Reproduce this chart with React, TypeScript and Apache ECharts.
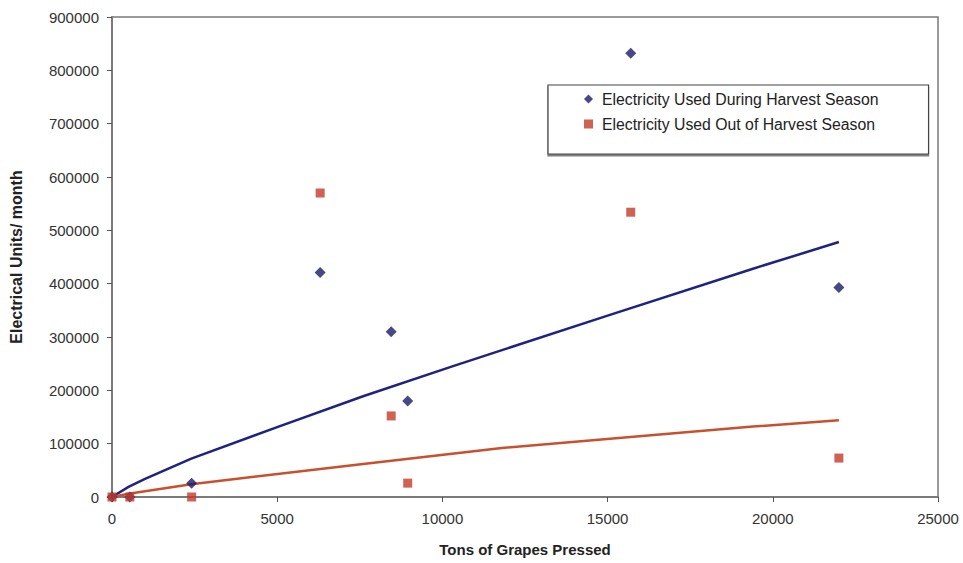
import React, { useEffect, useRef } from "react";
import * as echarts from "echarts";

const xTicks = [0, 5000, 10000, 15000, 20000, 25000];
const yTicks = [0, 100000, 200000, 300000, 400000, 500000, 600000, 700000, 800000, 900000];

const harvestTons = [0, 540, 2410, 6300, 8450, 8950, 15700, 22000];
const harvestUnits = [0, 0, 26000, 421000, 310000, 180000, 832000, 393000];

const offTons = [0, 540, 2410, 6300, 8450, 8950, 15700, 22000];
const offUnits = [0, 0, 0, 570000, 152000, 26000, 534000, 73000];

// trend lines
const harvestTrendX = [0, 500, 1000, 2400, 5000, 7600, 10300, 15000, 19400, 22000];
const harvestTrendY = [0, 19000, 34000, 72000, 131000, 189000, 245000, 340000, 428000, 478000];
const offTrendX = [0, 500, 2400, 7600, 11800, 19400, 22000];
const offTrendY = [0, 6000, 24000, 62000, 92000, 132000, 144000];

const seriesNames = [
  "Electricity Used During Harvest Season",
  "Electricity Used Out of Harvest Season",
];

const zip = (a: number[], b: number[]) => a.map((v, i) => [v, b[i]]);

export default function App() {
  const ref = useRef<HTMLDivElement>(null);
  useEffect(() => {
    if (!ref.current) return;
    const chart = echarts.init(ref.current, null, { renderer: "svg" });
    const font = "Liberation Sans, Arial, sans-serif";
    const blue = "#1a1a66";
    const red = "#c23b2b";
    chart.setOption({
      animation: false,
      backgroundColor: "#ffffff",
      textStyle: { fontFamily: font },
      grid: { left: 107, right: 25, top: 17, bottom: 66, show: true, borderColor: "#7a7a7a", borderWidth: 1.5 },
      legend: {
        data: [
          { name: seriesNames[0], icon: "diamond", itemStyle: { color: blue } },
          { name: seriesNames[1], icon: "rect", itemStyle: { color: red } },
        ],
        orient: "vertical",
        left: 548,
        top: 85,
        itemWidth: 9,
        itemHeight: 9,
        itemGap: 9,
        padding: [6, 50, 22, 36],
        borderColor: "#444",
        borderWidth: 1.2,
        backgroundColor: "#fff",
        shadowColor: "rgba(0,0,0,0.5)",
        shadowOffsetY: 2,
        shadowBlur: 0,
        textStyle: { fontSize: 15.8, color: "#222", fontFamily: font, padding: [0, 0, 0, 4] },
      },
      xAxis: {
        type: "value",
        min: 0,
        max: 25000,
        interval: 5000,
        name: "Tons of Grapes Pressed",
        nameLocation: "middle",
        nameGap: 45,
        nameTextStyle: { fontWeight: "bold", fontSize: 15, color: "#222" },
        axisLine: { show: true, lineStyle: { color: "#7a7a7a", width: 2 } },
        axisTick: { show: true, length: 5, lineStyle: { color: "#555" } },
        axisLabel: { fontSize: 15, color: "#333", margin: 14, formatter: (v: number) => (xTicks.includes(v) ? String(v) : "") },
        splitLine: { show: false },
      },
      yAxis: {
        type: "value",
        min: 0,
        max: 900000,
        interval: 100000,
        name: "Electrical Units/ month",
        nameLocation: "middle",
        nameGap: 88,
        nameTextStyle: { fontWeight: "bold", fontSize: 16, color: "#222" },
        axisLine: { show: true, lineStyle: { color: "#7a7a7a", width: 2 } },
        axisTick: { show: true, length: 5, lineStyle: { color: "#555" } },
        axisLabel: { fontSize: 15, color: "#333", margin: 13, formatter: (v: number) => (yTicks.includes(v) ? String(v) : "") },
        splitLine: { show: false },
      },
      series: [
        {
          name: seriesNames[0],
          type: "scatter",
          symbol: "diamond",
          symbolSize: 11,
          itemStyle: { color: blue },
          data: zip(harvestTons, harvestUnits),
          z: 5,
        },
        {
          name: seriesNames[1],
          type: "scatter",
          symbol: "rect",
          symbolSize: 9,
          itemStyle: { color: red },
          data: zip(offTons, offUnits),
          z: 5,
        },
        {
          name: "harvestTrend",
          type: "line",
          smooth: false,
          showSymbol: false,
          symbol: "none",
          lineStyle: { color: "#1f237f", width: 2.5 },
          data: zip(harvestTrendX, harvestTrendY),
          z: 3,
        },
        {
          name: "offTrend",
          type: "line",
          smooth: false,
          showSymbol: false,
          symbol: "none",
          lineStyle: { color: "#c8502e", width: 2.5 },
          data: zip(offTrendX, offTrendY),
          z: 3,
        },
      ],
    });
    return () => chart.dispose();
  }, []);
  return <div ref={ref} style={{ position: "fixed", left: 0, top: 0, width: 963, height: 563 }} />;
}
